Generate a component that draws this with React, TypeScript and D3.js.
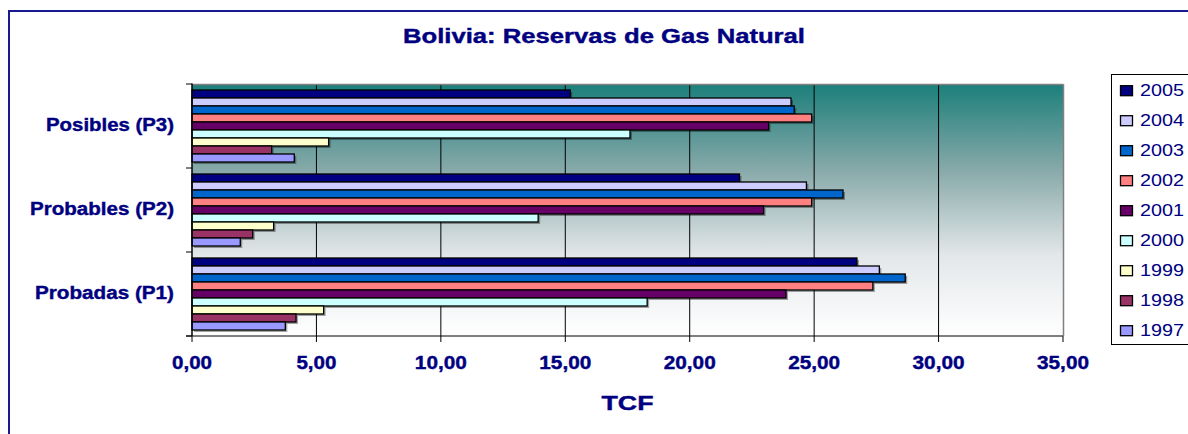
import React from "react";
import * as d3 from "d3";

const categories = ["Posibles (P3)", "Probables (P2)", "Probadas (P1)"];
const years = ["2005", "2004", "2003", "2002", "2001", "2000", "1999", "1998", "1997"];
const colors = ["#000080", "#CCCCFF", "#0066CC", "#FF8080", "#660066", "#CCFFFF", "#FFFFCC", "#993366", "#9999FF"];
// values per year, in category order [P3, P2, P1]
const v2005 = [15.2, 22.0, 26.72];
const v2004 = [24.07, 24.69, 27.62];
const v2003 = [24.2, 26.16, 28.66];
const v2002 = [24.9, 24.9, 27.36];
const v2001 = [23.17, 22.97, 23.87];
const v2000 = [17.6, 13.91, 18.29];
const v1999 = [5.49, 3.28, 5.29];
const v1998 = [3.2, 2.44, 4.18];
const v1997 = [4.11, 1.94, 3.75];
const seriesValues = [v2005, v2004, v2003, v2002, v2001, v2000, v1999, v1998, v1997];
const xTicks = [0, 5, 10, 15, 20, 25, 30, 35];
const yLabelWidths = [128, 144, 139];

const FONT = "'Liberation Sans', Arial, Helvetica, sans-serif";
const NAVY = "#000080";

export default function App() {
  const L = 192, R = 1063, T = 84, B = 336;
  const x = d3.scaleLinear().domain([0, 35]).range([L, R]);
  const y = d3.scaleBand().domain(categories).range([T, B]).paddingInner(0).paddingOuter(0);
  const yi = d3.scaleBand().domain(years).range([0, y.bandwidth()]).paddingInner(0).paddingOuter(0.75);
  const fmt = (v: number) => v.toFixed(2).replace(".", ",");
  const boldStroke = { stroke: NAVY, strokeWidth: 0.4 };

  return (
    <svg width={1188} height={434} style={{ position: "absolute", left: 0, top: 0, background: "#fff" }}>
      <defs>
        <linearGradient id="bg" x1="0" y1="0" x2="0" y2="1">
          <stop offset="0" stopColor="#1b7f7b" />
          <stop offset="0.34" stopColor="#87a9a9" />
          <stop offset="0.68" stopColor="#e3e7e9" />
          <stop offset="1" stopColor="#ffffff" />
        </linearGradient>
      </defs>
      <rect x={0} y={0} width={1188} height={434} fill="#fff" />
      {/* outer border */}
      <rect x={9} y={11} width={1200} height={440} fill="none" stroke="#1a1a90" strokeWidth={2} />
      {/* title */}
      <text x={604} y={43} textAnchor="middle" fontFamily={FONT} fontWeight="bold" fontSize={20}
        fill={NAVY} {...boldStroke} textLength={402} lengthAdjust="spacingAndGlyphs">Bolivia: Reservas de Gas Natural</text>

      {/* plot background */}
      <rect x={L} y={T} width={R - L} height={B - T} fill="url(#bg)" />
      {/* gridlines */}
      {xTicks.slice(1, -1).map((t) => (
        <line key={"g" + t} x1={x(t)} x2={x(t)} y1={T} y2={B} stroke="#000" strokeWidth={1} />
      ))}
      {/* plot border top/right */}
      <line x1={L} x2={R} y1={T + 0.5} y2={T + 0.5} stroke="#808080" strokeWidth={1.5} />
      <line x1={R + 0.5} x2={R + 0.5} y1={T} y2={B} stroke="#808080" strokeWidth={1.5} />

      {/* bar shadows */}
      {categories.map((c, ci) =>
        years.map((yr, si) => {
          const v = seriesValues[si][ci];
          const y0 = (y(c) as number) + (yi(yr) as number);
          const h = yi.bandwidth();
          return (
            <rect key={"s" + c + yr} x={x(0) + 2} y={y0 + 2} width={x(v) - x(0)} height={h} fill="rgba(0,0,0,0.35)" />
          );
        })
      )}
      {/* bars */}
      {categories.map((c, ci) =>
        years.map((yr, si) => {
          const v = seriesValues[si][ci];
          const y0 = (y(c) as number) + (yi(yr) as number);
          const h = yi.bandwidth();
          return (
            <rect key={"b" + c + yr} x={x(0)} y={y0} width={x(v) - x(0)} height={h}
              fill={colors[si]} stroke="#000" strokeWidth={1.3} />
          );
        })
      )}

      {/* axes */}
      <line x1={L - 6} x2={R} y1={B} y2={B} stroke="#000" strokeWidth={1} />
      <line x1={L} x2={L} y1={T - 0.5} y2={B} stroke="#000" strokeWidth={1.5} />
      {xTicks.map((t) => (
        <line key={"xt" + t} x1={x(t)} x2={x(t)} y1={B} y2={B + 6} stroke="#000" strokeWidth={1} />
      ))}
      {[T, T + y.bandwidth(), T + 2 * y.bandwidth(), B].map((yy, i) => (
        <line key={"yt" + i} x1={L - 6} x2={L} y1={yy} y2={yy} stroke="#000" strokeWidth={1} />
      ))}
      {xTicks.map((t) => {
        const s = fmt(t);
        return (
          <text key={"xl" + t} x={x(t)} y={369} textAnchor="middle" fontFamily={FONT} fontWeight="bold"
            fontSize={18} fill={NAVY} {...boldStroke} textLength={s.length === 4 ? 40 : 52} lengthAdjust="spacingAndGlyphs">{s}</text>
        );
      })}
      {categories.map((c, i) => (
        <text key={"yl" + c} x={174} y={(y(c) as number) + y.bandwidth() / 2 + 5} textAnchor="end"
          fontFamily={FONT} fontWeight="bold" fontSize={18} fill={NAVY} {...boldStroke}
          textLength={yLabelWidths[i]} lengthAdjust="spacingAndGlyphs">{c}</text>
      ))}
      <text x={(L + R) / 2} y={410} textAnchor="middle" fontFamily={FONT} fontWeight="bold" fontSize={21}
        fill={NAVY} {...boldStroke} textLength={52} lengthAdjust="spacingAndGlyphs">TCF</text>

      {/* legend */}
      <rect x={1111.5} y={74.5} width={100} height={270} fill="#fff" stroke="#000" strokeWidth={1} />
      {years.map((yr, i) => {
        const cy = 90.7 + i * 30;
        return (
          <g key={"lg" + yr}>
            <rect x={1120.5} y={cy - 5} width={12} height={10} fill={colors[i]} stroke="#000" strokeWidth={1.3} />
            <text x={1140} y={cy + 5.6} fontFamily={FONT} fontSize={16} fill={NAVY}
              textLength={44} lengthAdjust="spacingAndGlyphs">{yr}</text>
          </g>
        );
      })}
    </svg>
  );
}
